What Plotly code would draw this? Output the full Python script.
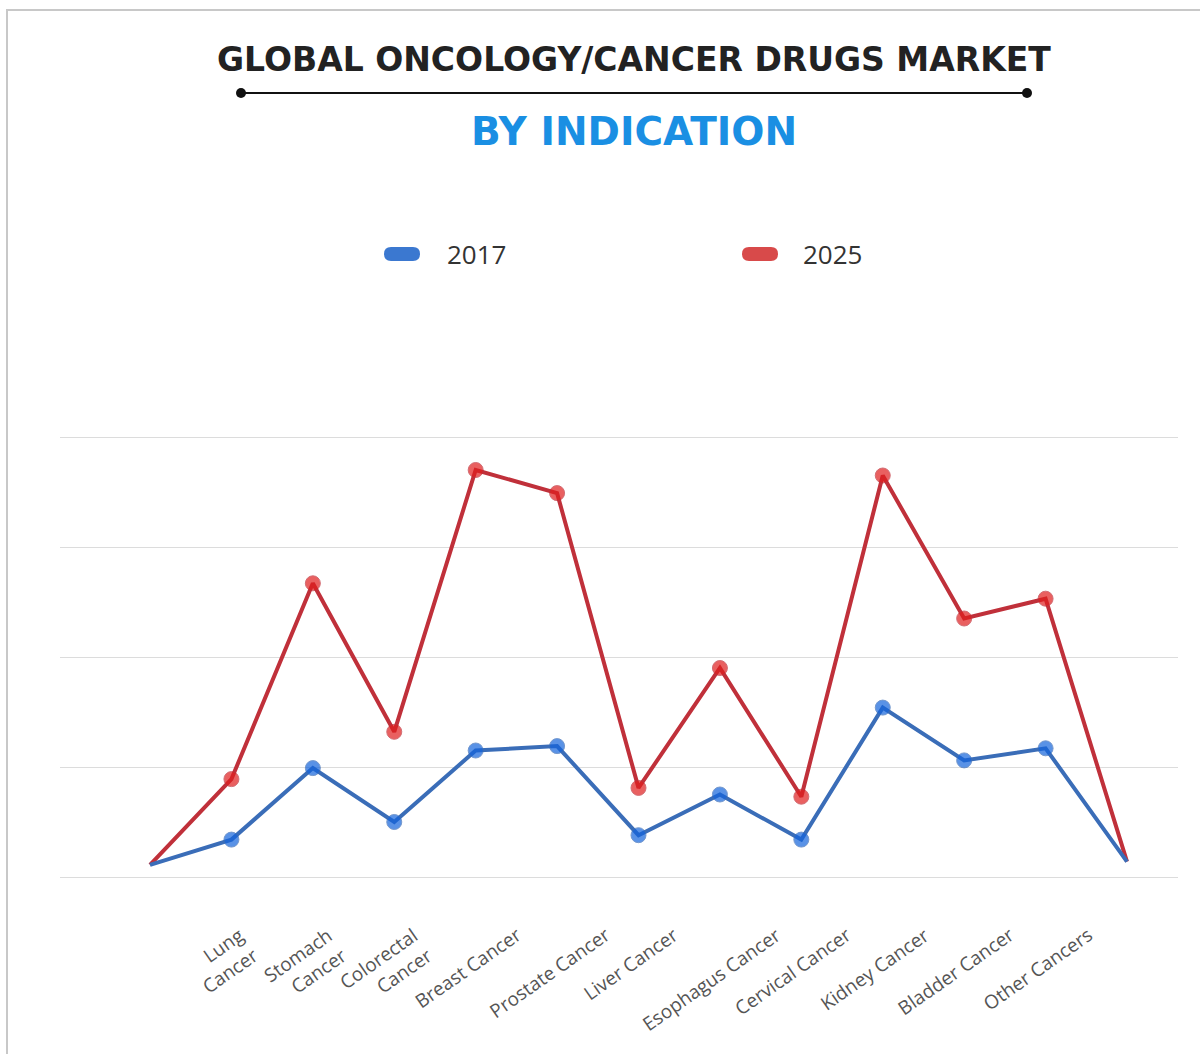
import plotly.graph_objects as go

# Indications along the x axis; the first and last slots are unlabeled anchor points
indications = [
    "", "Lung<br>Cancer", "Stomach<br>Cancer", "Colorectal<br>Cancer", "Breast Cancer",
    "Prostate Cancer", "Liver Cancer", "Esophagus Cancer", "Cervical Cancer",
    "Kidney Cancer", "Bladder Cancer", "Other Cancers", "",
]
values_2017 = [0.11, 0.34, 0.99, 0.50, 1.15, 1.19, 0.38, 0.75, 0.34, 1.54, 1.06, 1.17, 0.14]
values_2025 = [0.11, 0.89, 2.67, 1.32, 3.70, 3.49, 0.81, 1.90, 0.73, 3.65, 2.35, 2.53, 0.14]
series_names = ["2017", "2025"]

W, H = 1200, 1054
ML, MR, MT, MB = 60, 22, 431, 171


def px(x):
    return (x - ML) / (W - ML - MR)


def py(y):
    return (H - MB - y) / (H - MT - MB)


xs = list(range(len(indications)))
marker_sizes = [0] + [15] * (len(indications) - 2) + [0]

fig = go.Figure()
fig.add_trace(go.Scatter(
    x=xs, y=values_2025, name=series_names[1], mode="lines+markers",
    line=dict(color="#c0303a", width=4),
    marker=dict(color="#e01e1e", size=marker_sizes),
    hoverinfo="skip",
))
fig.add_trace(go.Scatter(
    x=xs, y=values_2017, name=series_names[0], mode="lines+markers",
    line=dict(color="#3a6db8", width=4),
    marker=dict(color="#1464dc", size=marker_sizes),
    hoverinfo="skip",
))

shapes = [
    # outer frame
    dict(type="rect", xref="paper", yref="paper", x0=px(7), x1=px(1210), y0=py(10), y1=py(1070),
         line=dict(color="#c8c8c8", width=2), fillcolor="rgba(0,0,0,0)", layer="below"),
    # rule under the title with end dots
    dict(type="line", xref="paper", yref="paper", x0=px(241), x1=px(1027), y0=py(93), y1=py(93),
         line=dict(color="#111111", width=2)),
    dict(type="circle", xref="paper", yref="paper", x0=px(236), x1=px(246), y0=py(88), y1=py(98),
         fillcolor="#111111", line=dict(width=0)),
    dict(type="circle", xref="paper", yref="paper", x0=px(1022), x1=px(1032), y0=py(88), y1=py(98),
         fillcolor="#111111", line=dict(width=0)),
]


def pill(x0, x1, yc, h, color):
    r = h / 2
    xa, xb = px(x0 + r), px(x1 - r)
    yt, yb = py(yc - r), py(yc + r)
    xl, xr = px(x0), px(x1)
    ym = py(yc)
    path = (f"M {xa},{yt} L {xb},{yt} Q {xr},{yt} {xr},{ym} Q {xr},{yb} {xb},{yb} "
            f"L {xa},{yb} Q {xl},{yb} {xl},{ym} Q {xl},{yt} {xa},{yt} Z")
    return dict(type="path", xref="paper", yref="paper", path=path, fillcolor=color, line=dict(width=0))


shapes.append(pill(384, 420, 254, 14, "#3b78d0"))
shapes.append(pill(742, 778, 254, 14, "#d84a4a"))

annotations = [
    dict(text="<b>GLOBAL ONCOLOGY/CANCER DRUGS MARKET</b>", x=px(634), y=py(60), xref="paper", yref="paper",
         showarrow=False, xanchor="center", yanchor="middle",
         font=dict(family="DejaVu Sans", size=33, color="#222222")),
    dict(text="<b>BY INDICATION</b>", x=px(634), y=py(131), xref="paper", yref="paper",
         showarrow=False, xanchor="center", yanchor="middle",
         font=dict(family="DejaVu Sans", size=39, color="#1a8fe3")),
    dict(text=series_names[0], x=px(445), y=py(254), xref="paper", yref="paper",
         showarrow=False, xanchor="left", yanchor="middle",
         font=dict(family="Open Sans", size=26, color="#333333")),
    dict(text=series_names[1], x=px(801), y=py(254), xref="paper", yref="paper",
         showarrow=False, xanchor="left", yanchor="middle",
         font=dict(family="Open Sans", size=26, color="#333333")),
]

# Slanted category labels, centred under each category and hanging below the baseline
for i, label in zip(xs, indications):
    if not label:
        continue
    annotations.append(dict(
        text=label, x=i, xref="x", y=py(919), yref="paper",
        xanchor="center", yanchor="top", xshift=-8, textangle=-35, align="right",
        showarrow=False, font=dict(family="Open Sans", size=19, color="#555555"),
    ))

fig.update_layout(
    width=W, height=H,
    margin=dict(l=ML, r=MR, t=MT, b=MB),
    paper_bgcolor="white", plot_bgcolor="white",
    showlegend=False,
    shapes=shapes,
    annotations=annotations,
    xaxis=dict(
        range=[-90 / 81.4, 12 + 51 / 81.4],
        showticklabels=False, ticks="", showgrid=False, zeroline=False, showline=False,
    ),
    yaxis=dict(
        range=[-6 / 110, 4 + 6 / 110],
        tickvals=[0, 1, 2, 3, 4], showticklabels=False, ticks="",
        showgrid=True, gridcolor="#dcdcdc", gridwidth=1,
        zeroline=False, showline=False,
    ),
)

fig.write_html("out.html")
